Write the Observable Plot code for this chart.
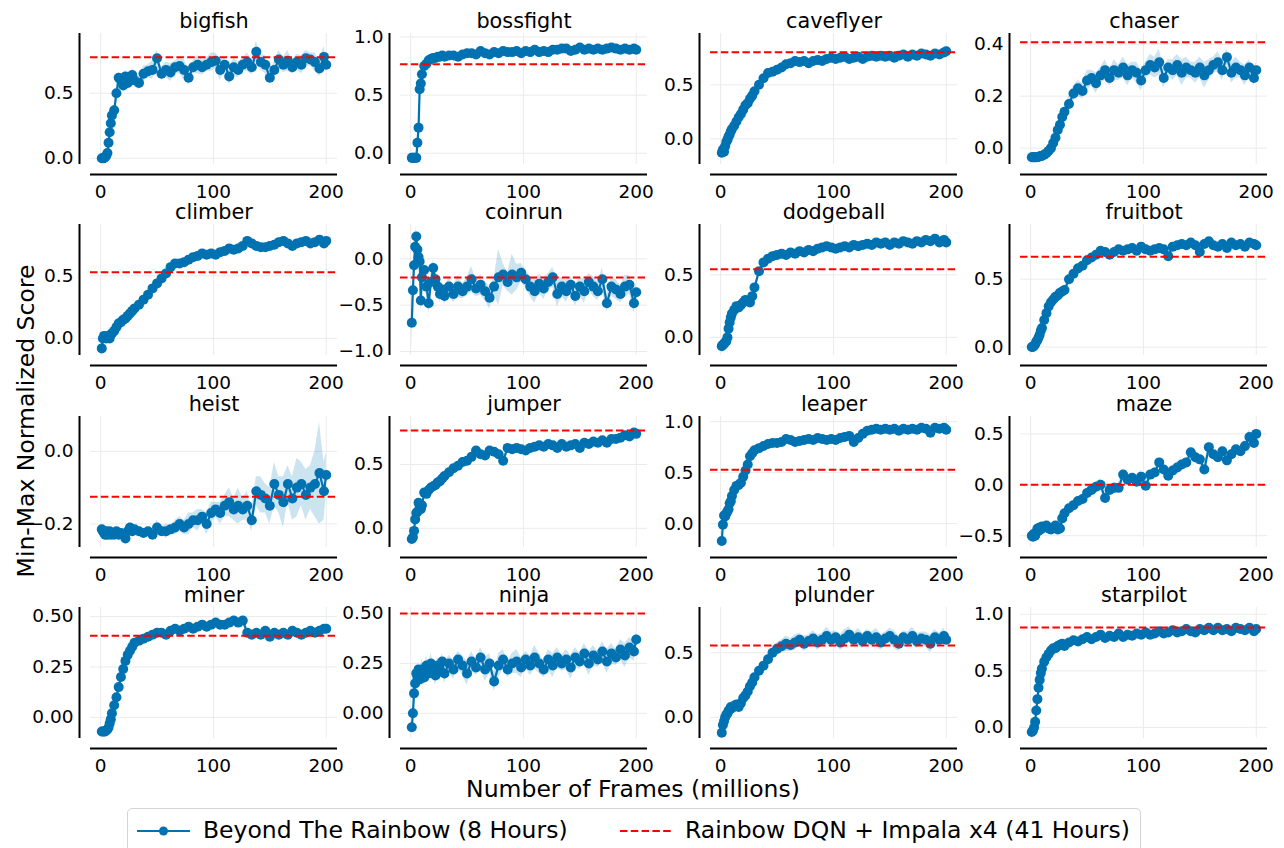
<!DOCTYPE html>
<html><head><meta charset="utf-8">
<script src="https://cdn.jsdelivr.net/npm/d3@7"></script>
<script src="https://cdn.jsdelivr.net/npm/@observablehq/plot@0.6"></script>
<style>
body{margin:0;background:#fff;}
#fig{position:relative;width:1284px;height:848px;overflow:hidden;font-family:"DejaVu Sans",sans-serif;color:#000;background:#fff;}
.panel{position:absolute;}
.panel svg{overflow:visible;background:transparent;}
.lbl{position:absolute;font-size:23.5px;line-height:1;white-space:nowrap;color:#000;}
</style></head><body><div id="fig"></div>
<script>
const frames = [1,2,3,4,5,6,7,8,9,10, 12,14,16,18,20,22,24,26,28,30,
  34,38,42,46,50,54,58,62,66,70,74,78,82,86,90,94,98,102,106,110,114,118,122,126,130,134,138,142,146,150,154,158,162,166,170,174,178,182,186,190,194,198, 200];

const games = ["bigfish","bossfight","caveflyer","chaser","climber","coinrun","dodgeball","fruitbot","heist","jumper","leaper","maze","miner","ninja","plunder","starpilot"];

// Mean normalized score (Beyond The Rainbow)
const bigfish = [0.0,0.0,0.0,0.01,0.02,0.04,0.12,0.2,0.27,0.33, 0.37,0.5,0.62,0.6,0.56,0.63,0.58,0.6,0.64,0.6,
  0.58,0.65,0.67,0.68,0.77,0.65,0.68,0.66,0.7,0.71, 0.68,0.62,0.7,0.72,0.7,0.72,0.74,0.75,0.68,0.72, 0.63,0.7,0.68,0.72,0.74,0.7,0.82,0.74,0.72,0.62, 0.68,0.76,0.72,0.75,0.7,0.74,0.72,0.77,0.76,0.74, 0.69,0.78, 0.72];
const bossfight = [-0.04,-0.04,-0.04,-0.04,-0.04,0.09,0.22,0.55,0.6,0.68, 0.75,0.77,0.8,0.81,0.82,0.82,0.83,0.83,0.84,0.83,
  0.84,0.84,0.83,0.85,0.86,0.86,0.85,0.88,0.86,0.85, 0.87,0.86,0.88,0.87,0.87,0.88,0.86,0.88,0.87,0.89, 0.87,0.88,0.87,0.89,0.89,0.9,0.9,0.88,0.89,0.91, 0.89,0.9,0.89,0.9,0.89,0.9,0.91,0.9,0.89,0.9, 0.89,0.9, 0.89];
const caveflyer = [-0.13,-0.1,-0.12,-0.07,-0.03,-0.01,0.02,0.04,0.07,0.09, 0.12,0.16,0.2,0.23,0.27,0.31,0.33,0.37,0.4,0.44,
  0.5,0.56,0.61,0.62,0.64,0.66,0.69,0.7,0.72,0.71, 0.72,0.7,0.72,0.73,0.72,0.74,0.75,0.74,0.75,0.76, 0.74,0.75,0.76,0.74,0.76,0.77,0.76,0.77,0.76,0.77, 0.75,0.77,0.78,0.76,0.78,0.77,0.79,0.78,0.77,0.79, 0.78,0.8, 0.81];
const chaser = [-0.035,-0.035,-0.035,-0.035,-0.035,-0.034,-0.033,-0.032,-0.03,-0.03, -0.025,-0.02,-0.01,0.0,0.02,0.04,0.07,0.09,0.12,0.14,
  0.17,0.21,0.23,0.22,0.26,0.27,0.25,0.28,0.3,0.27, 0.3,0.29,0.31,0.28,0.3,0.29,0.26,0.3,0.32,0.31, 0.33,0.27,0.31,0.3,0.32,0.29,0.31,0.3,0.29,0.31, 0.28,0.3,0.32,0.33,0.3,0.35,0.29,0.31,0.3,0.28, 0.31,0.27, 0.3];
const climber = [-0.08,0.0,0.02,0.01,0.0,0.02,0.01,0.0,0.03,0.04, 0.06,0.09,0.12,0.13,0.15,0.16,0.18,0.2,0.22,0.24,
  0.27,0.31,0.35,0.4,0.44,0.48,0.52,0.57,0.6,0.6, 0.61,0.63,0.65,0.66,0.68,0.67,0.68,0.67,0.69,0.7, 0.72,0.71,0.72,0.74,0.78,0.76,0.74,0.73,0.73,0.74, 0.75,0.77,0.78,0.76,0.74,0.76,0.77,0.78,0.76,0.77, 0.79,0.76, 0.78];
const coinrun = [-0.69,-0.34,-0.07,0.13,0.24,0.1,0.02,-0.03,-0.45,-0.2, -0.12,-0.3,-0.48,-0.25,-0.1,-0.22,-0.3,-0.38,-0.33,-0.4,
  -0.3,-0.38,-0.3,-0.35,-0.3,-0.22,-0.32,-0.28,-0.35,-0.42, -0.3,-0.2,-0.17,-0.25,-0.17,-0.2,-0.15,-0.22,-0.3,-0.35, -0.27,-0.32,-0.25,-0.2,-0.38,-0.3,-0.35,-0.28,-0.4,-0.3, -0.35,-0.25,-0.3,-0.35,-0.22,-0.48,-0.3,-0.33,-0.38,-0.3, -0.28,-0.48, -0.36];
const dodgeball = [-0.07,-0.06,-0.05,-0.04,-0.03,0.0,0.07,0.12,0.16,0.19, 0.22,0.25,0.24,0.26,0.28,0.3,0.29,0.28,0.33,0.4,
  0.53,0.6,0.63,0.65,0.66,0.67,0.66,0.68,0.67,0.69, 0.68,0.7,0.69,0.71,0.72,0.73,0.72,0.71,0.72,0.73, 0.72,0.74,0.73,0.74,0.75,0.74,0.76,0.75,0.76,0.74, 0.76,0.75,0.77,0.76,0.75,0.77,0.76,0.78,0.77,0.79, 0.76,0.78, 0.76];
const fruitbot = [0.0,0.0,0.01,0.02,0.04,0.05,0.07,0.09,0.12,0.14, 0.2,0.25,0.3,0.33,0.35,0.37,0.38,0.4,0.41,0.42,
  0.5,0.54,0.58,0.6,0.64,0.66,0.68,0.71,0.7,0.68, 0.7,0.72,0.71,0.72,0.73,0.71,0.74,0.72,0.71,0.72, 0.73,0.72,0.67,0.74,0.75,0.76,0.75,0.77,0.75,0.7, 0.76,0.78,0.75,0.74,0.76,0.73,0.77,0.75,0.76,0.74, 0.77,0.76, 0.75];
const heist = [-0.215,-0.22,-0.225,-0.23,-0.22,-0.23,-0.225,-0.22,-0.23,-0.225, -0.23,-0.22,-0.23,-0.225,-0.23,-0.24,-0.22,-0.21,-0.22,-0.215,
  -0.22,-0.225,-0.22,-0.23,-0.21,-0.22,-0.22,-0.215,-0.21,-0.2, -0.21,-0.2,-0.19,-0.19,-0.18,-0.2,-0.17,-0.16,-0.17,-0.15, -0.14,-0.16,-0.15,-0.16,-0.15,-0.19,-0.11,-0.12,-0.13,-0.15, -0.09,-0.12,-0.14,-0.09,-0.13,-0.1,-0.09,-0.12,-0.1,-0.09, -0.06,-0.11, -0.065];
const jumper = [-0.084,-0.07,-0.02,0.07,0.12,0.13,0.2,0.17,0.15,0.18, 0.28,0.27,0.3,0.32,0.33,0.34,0.36,0.37,0.39,0.41,
  0.44,0.47,0.49,0.52,0.53,0.56,0.61,0.58,0.57,0.61, 0.6,0.58,0.53,0.63,0.62,0.63,0.62,0.61,0.63,0.64, 0.65,0.64,0.66,0.65,0.63,0.66,0.64,0.65,0.66,0.63, 0.67,0.66,0.68,0.67,0.69,0.67,0.7,0.7,0.71,0.73, 0.72,0.75, 0.74];
const leaper = [-0.17,-0.01,0.08,0.07,0.1,0.12,0.14,0.2,0.22,0.27, 0.33,0.37,0.38,0.4,0.46,0.52,0.58,0.66,0.69,0.72,
  0.74,0.76,0.78,0.79,0.79,0.8,0.83,0.82,0.8,0.81, 0.82,0.83,0.82,0.84,0.83,0.82,0.83,0.82,0.84,0.85, 0.86,0.8,0.84,0.88,0.91,0.92,0.93,0.92,0.93,0.92, 0.93,0.91,0.93,0.92,0.93,0.92,0.94,0.93,0.89,0.94, 0.93,0.94, 0.92];
const maze = [-0.5,-0.51,-0.48,-0.5,-0.47,-0.43,-0.45,-0.42,-0.44,-0.41, -0.42,-0.4,-0.43,-0.44,-0.42,-0.4,-0.44,-0.43,-0.33,-0.28,
  -0.23,-0.2,-0.16,-0.14,-0.08,-0.05,-0.02,0.0,-0.13,-0.05, -0.03,-0.03,0.1,0.05,0.07,0.03,0.08,-0.01,0.1,0.12, 0.22,0.15,0.09,0.14,0.17,0.2,0.22,0.32,0.27,0.25, 0.15,0.37,0.3,0.27,0.33,0.24,0.3,0.35,0.33,0.38, 0.47,0.41, 0.5];
const miner = [-0.07,-0.07,-0.07,-0.07,-0.065,-0.06,-0.05,-0.03,-0.01,0.02, 0.06,0.1,0.15,0.2,0.24,0.28,0.31,0.33,0.35,0.37,
  0.38,0.39,0.4,0.41,0.42,0.42,0.41,0.43,0.44,0.43, 0.44,0.45,0.44,0.45,0.46,0.45,0.46,0.47,0.46,0.46, 0.47,0.48,0.47,0.48,0.42,0.41,0.42,0.41,0.43,0.4, 0.42,0.41,0.42,0.41,0.43,0.42,0.41,0.42,0.43,0.42, 0.43,0.44, 0.44];
const ninja = [-0.07,0.0,0.1,0.15,0.2,0.18,0.22,0.17,0.2,0.22, 0.18,0.24,0.2,0.25,0.22,0.19,0.24,0.21,0.26,0.2,
  0.25,0.22,0.27,0.24,0.2,0.26,0.23,0.28,0.22,0.25, 0.16,0.24,0.27,0.22,0.25,0.26,0.23,0.27,0.24,0.28, 0.25,0.22,0.27,0.24,0.28,0.25,0.27,0.23,0.28,0.26, 0.3,0.25,0.29,0.27,0.31,0.26,0.3,0.28,0.32,0.29, 0.33,0.31, 0.37];
const plunder = [-0.12,-0.06,-0.03,0.0,0.02,0.03,0.05,0.06,0.08,0.07, 0.09,0.1,0.08,0.11,0.15,0.17,0.2,0.24,0.27,0.31,
  0.36,0.4,0.45,0.5,0.53,0.55,0.57,0.56,0.58,0.6, 0.57,0.59,0.61,0.58,0.6,0.63,0.6,0.62,0.58,0.61, 0.64,0.6,0.62,0.59,0.63,0.6,0.62,0.58,0.61,0.63, 0.6,0.57,0.62,0.6,0.63,0.59,0.61,0.6,0.57,0.62, 0.6,0.63, 0.6];
const starpilot = [-0.04,-0.03,0.0,0.05,0.15,0.25,0.35,0.42,0.48,0.52, 0.58,0.62,0.65,0.68,0.7,0.7,0.72,0.73,0.74,0.72,
  0.75,0.77,0.76,0.78,0.8,0.78,0.8,0.82,0.79,0.81, 0.8,0.83,0.8,0.82,0.81,0.83,0.82,0.84,0.82,0.83, 0.85,0.83,0.84,0.86,0.84,0.85,0.87,0.85,0.84,0.87, 0.86,0.88,0.86,0.88,0.86,0.87,0.85,0.88,0.87,0.86, 0.88,0.85, 0.87];

// Half-width of the shaded band, in hundredths of a score unit
const bigfishS = [1,1,1,1,1,2,3,3,3,3, 3,4,4,4,5,5,5,4,5,5, 5,6,5,7,6,5,6,7,5,6, 8,6,5,7,6,5,7,6,8,5, 6,7,6,5,7,6,8,6,7,5, 6,7,6,8,5,6,7,6,5,7, 6,8, 5];
const bossfightS = [1,1,1,1,1,2,3,4,3,2, 2,2,2,2,2,2,2,2,2,2, 2,2,1,2,2,2,1,2,2,2, 2,1,2,2,2,2,2,1,2,2, 2,2,2,1,2,2,2,2,2,1, 2,2,2,2,2,2,1,2,2,2, 2,2, 2];
const caveflyerS = [1,1,1,1,1,1,2,2,2,2, 2,2,2,2,3,2,3,2,3,3, 3,3,4,3,4,3,4,3,4,4, 3,4,3,4,4,3,5,3,4,3, 4,3,4,3,4,3,4,3,3,4, 3,4,3,4,3,4,3,3,4,3, 3,2, 2];
const chaserS = [0,0,0,0,0,0,0,0,1,1, 1,1,1,1,1,2,2,2,2,2, 3,3,3,3,4,3,4,3,4,3, 4,3,4,4,3,4,4,3,4,4, 5,4,3,4,4,5,4,3,4,4, 5,4,3,4,4,3,4,4,3,4, 3,3, 3];
const climberS = [1,1,1,1,1,1,1,1,1,1, 1,1,1,1,1,1,2,2,2,2, 2,2,2,2,2,3,2,2,3,2, 2,2,2,3,2,2,2,3,2,2, 2,2,2,2,3,2,2,2,2,2, 2,2,2,2,2,2,2,2,2,2, 2,2, 2];
const coinrunS = [28,20,15,12,10,12,10,12,14,12, 12,10,12,10,9,10,8,9,8,9, 10,9,12,8,10,14,9,11,10,12, 9,30,12,10,22,14,10,9,11,13, 10,12,9,11,14,10,12,9,11,10, 13,9,11,10,12,9,10,11,9,12, 10,11, 10];
const dodgeballS = [1,1,1,1,1,1,1,1,1,1, 1,1,1,1,1,1,1,1,1,1, 1,2,2,2,2,3,2,2,2,2, 2,2,3,2,2,2,2,2,2,3, 2,2,2,2,2,2,2,2,2,2, 2,2,2,2,2,2,2,2,2,2, 2,2, 2];
const fruitbotS = [1,1,1,1,1,1,1,1,1,1, 1,1,1,1,2,2,2,2,2,2, 3,3,3,3,3,2,3,2,3,2, 3,2,3,2,3,2,3,3,3,3, 2,3,3,2,3,3,3,2,3,3, 3,3,2,3,3,2,3,2,3,2, 2,2, 2];
const heistS = [1,1,1,1,1,1,1,1,1,1, 1,1,1,1,1,1,1,1,1,1, 1,1,1,1,2,1,2,1,2,2, 2,3,2,3,2,3,3,2,3,3, 4,3,5,3,4,3,4,5,4,5, 6,5,7,5,6,8,6,7,6,9, 14,8, 6];
const jumperS = [1,1,1,1,1,1,1,1,1,1, 2,2,2,2,2,2,2,2,2,2, 2,2,2,2,3,2,2,3,2,2, 2,2,2,3,2,2,2,2,2,2, 2,2,2,2,2,2,2,3,2,2, 2,2,2,3,2,2,2,3,2,2, 2,2, 2];
const leaperS = [1,1,1,1,1,1,1,1,1,1, 1,1,1,1,1,1,2,2,2,2, 2,2,2,2,2,2,2,2,2,2, 2,2,2,2,2,2,2,2,2,2, 2,2,3,2,2,2,2,2,2,2, 2,2,2,2,2,2,2,2,2,2, 2,2, 2];
const mazeS = [2,2,3,2,3,2,3,3,2,3, 3,2,3,3,3,4,3,4,3,4, 4,5,4,4,5,4,5,6,4,5, 5,4,6,5,4,5,6,5,4,5, 5,6,4,5,6,5,4,5,6,5, 4,6,5,4,5,6,5,4,5,6, 7,5, 5];
const minerS = [1,1,1,1,1,1,1,1,1,1, 1,1,1,1,1,1,1,1,1,1, 1,1,1,1,1,1,1,1,1,1, 1,1,1,1,1,1,1,1,1,1, 1,1,1,1,1,1,1,1,1,1, 1,1,1,1,1,1,1,1,1,1, 1,1, 1];
const ninjaS = [2,3,4,4,5,5,4,5,4,5, 4,5,4,5,4,5,4,5,4,5, 4,5,4,5,6,5,4,5,6,5, 5,6,5,4,5,6,5,4,5,6, 5,4,5,6,5,4,5,6,5,4, 5,6,5,4,5,6,5,4,5,6, 5,5, 4];
const plunderS = [1,1,1,1,1,1,1,1,1,1, 2,2,2,2,2,2,2,2,3,3, 3,3,4,4,5,5,6,5,6,5, 6,5,6,6,5,7,6,5,6,7, 6,5,7,6,5,6,7,6,5,6, 7,6,5,6,7,6,5,6,7,6, 5,6, 5];
const starpilotS = [1,1,1,1,1,2,2,2,2,2, 2,2,2,2,2,3,2,3,2,3, 3,2,3,2,3,3,2,3,3,2, 3,2,3,3,2,3,3,2,3,3, 2,3,3,2,3,3,2,3,3,2, 3,3,2,3,3,2,3,3,2,3, 3,2, 2];

// Rainbow DQN + Impala x4 reference score per game
const baselines = [0.777,0.766,0.802,0.407,0.53,-0.203,0.546,0.665,-0.125,0.766,0.529,0.0,0.405,0.5,0.555,0.884];

// y-axis extents and tick labels per game
const yDomains = [[-0.048,0.96],[-0.097,1.03],[-0.238,0.975],[-0.063,0.441],[-0.137,0.911],[-1.043,0.37],[-0.145,0.903],[-0.062,0.903],
  [-0.265,0.096],[-0.15,0.876],[-0.234,1.05],[-0.616,0.671],[-0.105,0.545],[-0.126,0.53],[-0.164,0.85],[-0.098,1.06]];
const yTicks = [[0,0.5],[0,0.5,1],[0,0.5],[0,0.2,0.4],[0,0.5],[-1,-0.5,0],[0,0.5],[0,0.5],
  [-0.2,0],[0,0.5],[0,0.5,1],[-0.5,0,0.5],[0,0.25,0.5],[0,0.25,0.5],[0,0.5],[0,0.5,1]];
const yTickFormats = [".1f",".1f",".1f",".1f",".1f",".1f",".1f",".1f",".1f",".1f",".1f",".1f",".2f",".2f",".1f",".1f"];
const xTicks = [0,100,200];

const means = [bigfish,bossfight,caveflyer,chaser,climber,coinrun,dodgeball,fruitbot,heist,jumper,leaper,maze,miner,ninja,plunder,starpilot];
const spreads = [bigfishS,bossfightS,caveflyerS,chaserS,climberS,coinrunS,dodgeballS,fruitbotS,heistS,jumperS,leaperS,mazeS,minerS,ninjaS,plunderS,starpilotS];

const legendLabels = ["Beyond The Rainbow (8 Hours)", "Rainbow DQN + Impala x4 (41 Hours)"];
const xLabel = "Number of Frames (millions)";
const yLabel = "Min-Max Normalized Score";

const BLUE = "#0072B2";
const fig = document.getElementById("fig");

games.forEach((g, i) => {
  const col = i % 4, row = Math.floor(i / 4);
  const mean = means[i], spread = spreads[i];
  if (mean.length !== frames.length || spread.length !== frames.length) throw new Error(g + " length " + mean.length + "/" + spread.length);
  const data = frames.map((f, j) => ({f, m: mean[j], lo: mean[j] - spread[j] / 100, hi: mean[j] + spread[j] / 100}));
  const [y0, y1] = yDomains[i];
  const xd = [-9, 210];
  const chart = Plot.plot({
    width: 340, height: 200, marginTop: 33, marginBottom: 36, marginLeft: 90, marginRight: 3,
    style: {fontFamily: "DejaVu Sans", fontSize: "18.5px", color: "#000", background: "transparent", overflow: "visible"},
    x: {domain: xd, ticks: xTicks, tickSize: 0, tickPadding: 20, label: null},
    y: {domain: [y0, y1], ticks: yTicks[i], tickSize: 0, tickPadding: 17, tickFormat: d3.format(yTickFormats[i]), label: null},
    marks: [
      Plot.ruleX(xTicks, {stroke: "#ebebeb", strokeWidth: 1}),
      Plot.ruleY(yTicks[i], {stroke: "#ebebeb", strokeWidth: 1}),
      Plot.areaY(data, {x: "f", y1: "lo", y2: "hi", fill: BLUE, fillOpacity: 0.2}),
      Plot.line(data, {x: "f", y: "m", stroke: BLUE, strokeWidth: 2.2}),
      Plot.dot(data, {x: "f", y: "m", fill: BLUE, r: 5}),
      Plot.ruleY([baselines[i]], {stroke: "red", strokeWidth: 2, strokeDasharray: "7.5,3.3"}),
      Plot.ruleX([xd[0]], {y1: y0, y2: y1, dx: -11, stroke: "#000", strokeWidth: 2}),
      Plot.ruleY([y0], {x1: xd[0], x2: xd[1], dy: 10, stroke: "#000", strokeWidth: 2}),
      Plot.text([g], {frameAnchor: "top", lineAnchor: "middle", dy: -12, fontSize: 20.8, fill: "#000"})
    ]
  });
  const div = document.createElement("div");
  div.className = "panel";
  div.style.left = (col * 310) + "px";
  div.style.top = (row * 191.33) + "px";
  div.appendChild(chart);
  fig.appendChild(div);
});

// axis labels
const xl = document.createElement("div");
xl.className = "lbl";
xl.style.left = "0px"; xl.style.width = "1266px"; xl.style.textAlign = "center"; xl.style.top = "778px";
xl.textContent = xLabel;
fig.appendChild(xl);

const yl = document.createElement("div");
yl.className = "lbl";
yl.style.left = "27px"; yl.style.top = "421px";
yl.style.transform = "translate(-50%,-50%) rotate(-90deg)";
yl.textContent = yLabel;
fig.appendChild(yl);

// legend
const lg = document.createElement("div");
lg.style.cssText = "position:absolute;left:127px;top:808px;width:1012px;height:60px;border:1px solid #d4d4d4;border-radius:5px;background:#fff;";
fig.appendChild(lg);
const ns = "http://www.w3.org/2000/svg";
const hs = document.createElementNS(ns, "svg");
hs.setAttribute("width", 1284); hs.setAttribute("height", 848);
hs.style.cssText = "position:absolute;left:0;top:0;pointer-events:none;";
hs.innerHTML = `<line x1="137" x2="190" y1="831" y2="831" stroke="${BLUE}" stroke-width="2"/>
<circle cx="163.5" cy="831" r="4.5" fill="${BLUE}"/>
<line x1="620" x2="673" y1="831" y2="831" stroke="red" stroke-width="2" stroke-dasharray="7.5,3.3"/>`;
fig.appendChild(hs);
[[203, legendLabels[0]], [685, legendLabels[1]]].forEach(([x, t]) => {
  const s = document.createElement("div");
  s.className = "lbl";
  s.style.left = x + "px"; s.style.top = "819px";
  s.textContent = t;
  fig.appendChild(s);
});
</script></body></html>
